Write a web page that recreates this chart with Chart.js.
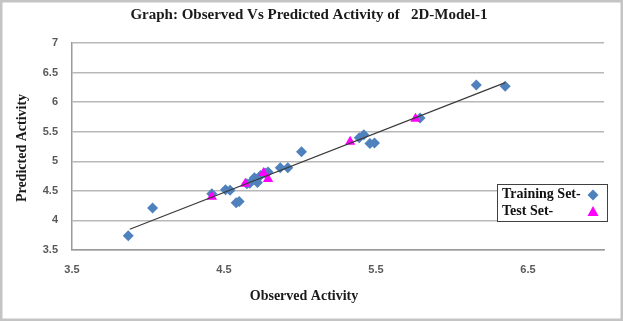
<!DOCTYPE html>
<html>
<head>
<meta charset="utf-8">
<script src="https://cdn.jsdelivr.net/npm/chart.js@4/dist/chart.umd.min.js"></script>
<style>
html,body{margin:0;padding:0;background:#fff;}
canvas{display:block;}
</style>
</head>
<body>
<canvas id="c" width="623" height="321"></canvas>
<script>
// ---- data ----
const trainObserved  = [3.87, 4.03, 4.42, 4.51, 4.54, 4.58, 4.60, 4.65, 4.67, 4.70, 4.72, 4.74, 4.77, 4.79, 4.87, 4.92, 5.01, 5.39, 5.42, 5.46, 5.49, 5.79, 6.16, 6.35];
const trainPredicted = [3.74, 4.21, 4.45, 4.52, 4.51, 4.30, 4.32, 4.62, 4.63, 4.72, 4.64, 4.76, 4.80, 4.82, 4.89, 4.89, 5.16, 5.40, 5.45, 5.30, 5.31, 5.73, 6.29, 6.27];
const testObserved   = [4.42, 4.64, 4.76, 4.79, 5.33, 5.76];
const testPredicted  = [4.40, 4.62, 4.80, 4.70, 5.33, 5.72];
const trendObserved  = [3.88, 6.35];
const trendPredicted = [3.85, 6.33];
const xTickValues = [3.5, 4.5, 5.5, 6.5];
const yTickValues = [3.5, 4, 4.5, 5, 5.5, 6, 6.5, 7];
const titleText = "Graph: Observed Vs Predicted Activity of   2D-Model-1";
const xTitle = "Observed Activity";
const yTitle = "Predicted Activity";
const seriesNames = ["Training Set-", "Test Set-"];

const pts = (xs, ys) => xs.map((x, i) => ({x: x, y: ys[i]}));

const BLUE = '#4F81BD', MAGENTA = '#FF00FF';

const deco = {
  id: 'deco',
  beforeDraw(chart) {
    const c = chart.ctx;
    c.save();
    c.fillStyle = '#fff';
    c.fillRect(0, 0, chart.width, chart.height);
    c.restore();
  },
  afterDraw(chart) {
    const c = chart.ctx;
    c.save();
    // outer frame
    c.strokeStyle = '#c4c4c4';
    c.lineWidth = 2.5;
    c.strokeRect(1.25, 1.25, chart.width - 2.5, chart.height - 2.5);
    // title
    c.fillStyle = '#1a1a1a';
    c.font = 'bold 15px "Liberation Serif"';
    c.textAlign = 'center';
    c.textBaseline = 'middle';
    c.fillText(titleText, 309, 15);
    // axis titles
    c.font = 'bold 14px "Liberation Serif"';
    c.fillText(xTitle, 304, 296);
    c.translate(22, 148);
    c.rotate(-Math.PI / 2);
    c.fillText(yTitle, 0, 0);
    c.restore();

    // legend
    c.save();
    const lx = 497, ly = 184, lw = 110, lh = 37;
    c.fillStyle = '#fff';
    c.fillRect(lx, ly, lw, lh);
    c.strokeStyle = '#404040';
    c.lineWidth = 1;
    c.strokeRect(lx + 0.5, ly + 0.5, lw, lh);
    c.fillStyle = '#111';
    c.font = 'bold 14px "Liberation Serif"';
    c.textAlign = 'left';
    c.textBaseline = 'middle';
    c.fillText(seriesNames[0], lx + 5, ly + 10);
    c.fillText(seriesNames[1], lx + 5, ly + 27);
    c.fillStyle = BLUE;
    c.beginPath();
    c.moveTo(593, ly + 5.5); c.lineTo(598.5, ly + 11); c.lineTo(593, ly + 16.5); c.lineTo(587.5, ly + 11); c.closePath();
    c.fill();
    c.fillStyle = MAGENTA;
    c.beginPath();
    c.moveTo(593, ly + 22); c.lineTo(598.5, ly + 32); c.lineTo(587.5, ly + 32); c.closePath();
    c.fill();
    c.restore();
  }
};

new Chart(document.getElementById('c'), {
  type: 'scatter',
  data: {
    datasets: [
      {
        type: 'line',
        label: 'trend',
        data: pts(trendObserved, trendPredicted),
        borderColor: '#3a3a3a',
        borderWidth: 1.2,
        pointRadius: 0,
        fill: false,
        order: 0
      },
      {
        label: seriesNames[1],
        data: pts(testObserved, testPredicted),
        pointStyle: 'triangle',
        pointRadius: 6,
        backgroundColor: MAGENTA,
        borderColor: MAGENTA,
        borderWidth: 0,
        order: 1
      },
      {
        label: seriesNames[0],
        data: pts(trainObserved, trainPredicted),
        pointStyle: 'rectRot',
        pointRadius: 5.5,
        backgroundColor: BLUE,
        borderColor: BLUE,
        borderWidth: 0,
        order: 2
      }
    ]
  },
  options: {
    responsive: false,
    animation: false,
    devicePixelRatio: 1,
    layout: {padding: {left: 0, top: 43, right: 19, bottom: 0}},
    plugins: {legend: {display: false}, tooltip: {enabled: false}, title: {display: false}},
    scales: {
      x: {
        type: 'linear',
        min: 3.5, max: 7,
        afterBuildTicks: s => { s.ticks = xTickValues.map(v => ({value: v})); },
        afterFit: s => { s.height = 71; },
        grid: {display: false, drawTicks: false},
        border: {display: true, color: '#9a9a9a', width: 1.5},
        ticks: {
          padding: 13,
          color: '#595959',
          font: {family: 'Liberation Sans', size: 11, weight: 'bold'},
          maxRotation: 0,
          autoSkip: false,
          callback: v => String(v)
        }
      },
      y: {
        type: 'linear',
        min: 3.5, max: 7,
        afterBuildTicks: s => { s.ticks = yTickValues.map(v => ({value: v})); },
        afterFit: s => { s.width = 72; },
        grid: {color: '#b8b8b8', lineWidth: 1.5, drawTicks: false},
        border: {display: true, color: '#9a9a9a', width: 1.5},
        ticks: {
          padding: 14,
          color: '#595959',
          font: {family: 'Liberation Sans', size: 11, weight: 'bold'},
          autoSkip: false,
          callback: v => String(v)
        }
      }
    }
  },
  plugins: [deco]
});
</script>
</body>
</html>
